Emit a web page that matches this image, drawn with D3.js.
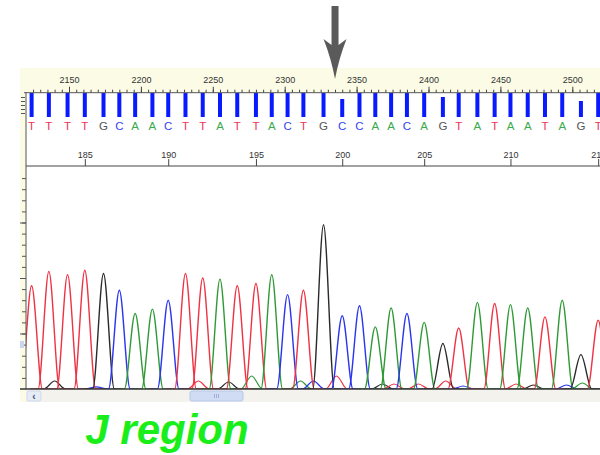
<!DOCTYPE html>
<html>
<head>
<meta charset="utf-8">
<script src="https://cdn.jsdelivr.net/npm/d3@7"></script>
<style>
  body { margin: 0; background: #fff; }
  svg { display: block; font-family: Arial, "Liberation Sans", sans-serif; }
</style>
</head>
<body>
<svg id="chart" width="600" height="455"></svg>
<script>
// called bases, first one shown is base 182
let bases = "TTTTGCAACTTATTACTGCCAACAGTATAATAGT".split(""),
    firstBase = 182;

// scan number of each called peak
let peakScans = [2124, 2136, 2149, 2161, 2174, 2185, 2196, 2208, 2219, 2231,
                 2243, 2255, 2267, 2280, 2291, 2302, 2313, 2327, 2340, 2352,
                 2363, 2374, 2385, 2397, 2410, 2421, 2434, 2446, 2457, 2469,
                 2481, 2493, 2506, 2518];

// signal of each called peak
let peakHeights = [930, 1060, 1030, 1070, 1040, 890, 680, 720, 800, 1040,
                   1000, 990, 930, 950, 1030, 850, 890, 1480, 660, 750,
                   560, 730, 680, 600, 410, 550, 780, 770, 760, 730,
                   650, 800, 310, 620];

// quality value per base (blue bars)
let quality = [60, 60, 60, 60, 60, 60, 60, 60, 60, 60,
               60, 60, 60, 60, 60, 60, 60, 60, 45, 60,
               60, 60, 60, 60, 50, 60, 60, 60, 60, 60,
               60, 60, 40, 60];

// small background bumps under the main peaks
let minorBases   = ["G", "C", "T", "G", "A", "A", "C", "T", "G", "T", "T", "T", "C", "T", "G", "C", "A"],
    minorScans   = [2140, 2169, 2240, 2261, 2277, 2311, 2320, 2336, 2368, 2376, 2393, 2412, 2424, 2461, 2473, 2496, 2507],
    minorHeights = [72, 20, 72, 63, 117, 72, 72, 117, 45, 45, 45, 72, 27, 45, 36, 36, 54];

let scanLabels = [2150, 2200, 2250, 2300, 2350, 2400, 2450, 2500];

let letterColor = {T: "#ee3355", G: "#555555", C: "#3344ee", A: "#3aaa4a"},
    traceColor  = {T: "#ee3344", G: "#2a2a2a", C: "#2a35ee", A: "#2f9a35"};

let svg = d3.select("#chart");

// scales
let x = d3.scaleLinear().domain([2150, 2500]).range([69, 572.3]);
let yq = d3.scaleLinear().domain([0, 60]).range([117, 93]);
let yt = d3.scaleLinear().domain([0, 2000]).range([389, 167]);

// window backgrounds
svg.append("rect").attr("x", 20).attr("y", 68).attr("width", 580).attr("height", 25).attr("fill", "#fcfce6");
svg.append("rect").attr("x", 20).attr("y", 68).attr("width", 6).attr("height", 334).attr("fill", "#fcfce6");

svg.append("defs").append("clipPath").attr("id", "plot")
  .append("rect").attr("x", 26).attr("y", 60).attr("width", 574).attr("height", 329);

// scan number axis along the top
let minorScanTicks = d3.range(2105, 2535, 5).filter(d => x(d) > 26 && x(d) < 600);
svg.append("g")
    .attr("transform", "translate(0,92.7)")
    .call(d3.axisTop(x).tickValues(minorScanTicks).tickSize(3).tickFormat(""))
    .call(g => g.select(".domain").remove());
svg.append("g")
    .attr("class", "scanAxis")
    .attr("transform", "translate(0,92.7)")
    .call(d3.axisTop(x).tickValues(scanLabels).tickSize(6).tickPadding(4).tickFormat(d3.format("d")))
    .call(g => g.select(".domain").remove());
svg.selectAll(".scanAxis text").attr("font-size", 9).attr("fill", "#333");
svg.selectAll("line").attr("stroke", "#444");

let plot = svg.append("g").attr("clip-path", "url(#plot)");

// quality bars
plot.selectAll(".qbar")
  .data(quality)
  .join("rect")
    .attr("class", "qbar")
    .attr("x", (d, i) => x(peakScans[i]) - 2)
    .attr("width", 4)
    .attr("y", d => yq(d))
    .attr("height", d => yq(0) - yq(d))
    .attr("fill", "#0a1aff");

// base letters
plot.selectAll(".base")
  .data(bases)
  .join("text")
    .attr("class", "base")
    .attr("x", (d, i) => x(peakScans[i]))
    .attr("y", 130)
    .attr("text-anchor", "middle")
    .attr("font-size", 11.5)
    .attr("fill", d => letterColor[d])
    .text(d => d);

// base number axis
let numberedScans = peakScans.filter((s, i) => (firstBase + i) % 5 === 0);
svg.append("g")
    .attr("class", "baseAxis")
    .attr("transform", "translate(0,166)")
    .call(d3.axisTop(x).tickValues(numberedScans).tickSize(7).tickPadding(1)
            .tickFormat(s => firstBase + peakScans.indexOf(s)))
    .call(g => g.select(".domain").remove());
svg.selectAll(".baseAxis text").attr("font-size", 9).attr("fill", "#333");
svg.selectAll(".baseAxis line").attr("stroke", "#444");

// frame lines
svg.append("line").attr("x1", 24).attr("x2", 600).attr("y1", 92.7).attr("y2", 92.7).attr("stroke", "#555");
svg.append("line").attr("x1", 26).attr("x2", 600).attr("y1", 166).attr("y2", 166).attr("stroke", "#444");
svg.append("line").attr("x1", 26).attr("x2", 26).attr("y1", 92.7).attr("y2", 389).attr("stroke", "#555");

// small quality scale on the left
svg.append("g")
    .attr("transform", "translate(25,0)")
    .call(d3.axisLeft(yq).tickValues([10, 20, 30, 40, 50]).tickSize(4).tickFormat(""))
    .call(g => g.select(".domain").remove())
    .selectAll("line").attr("stroke", "#555");

// signal axis on the left
svg.append("g")
    .attr("transform", "translate(26,0)")
    .call(d3.axisLeft(yt).tickValues(d3.range(100, 2000, 100)).tickSize(4).tickFormat(""))
    .call(g => g.select(".domain").remove())
    .selectAll("line").attr("stroke", "#555");
svg.append("g")
    .attr("transform", "translate(26,0)")
    .call(d3.axisLeft(yt).tickValues([500, 1000, 1500]).tickSize(6).tickFormat(""))
    .call(g => g.select(".domain").remove())
    .selectAll("line").attr("stroke", "#555");
svg.append("rect").attr("x", 20).attr("y", 341).attr("width", 4).attr("height", 7).attr("fill", "#c9d6ef");

// traces: each peak drawn as a smooth hump from the baseline
let halfWidth = 7.5, foot = 13;
let peakLine = d3.line()
    .x(d => x(d[0]))
    .y(d => yt(d[1]))
    .curve(d3.curveMonotoneX);
function peakPoints(s, h) {
  return [[s - foot, 0], [s - halfWidth, 0], [s, h], [s + halfWidth, 0], [s + foot, 0]];
}

plot.selectAll(".minor")
  .data(minorScans)
  .join("path")
    .attr("class", "minor")
    .attr("d", (s, i) => peakLine(peakPoints(s, minorHeights[i])))
    .attr("fill", "none")
    .attr("stroke", (s, i) => traceColor[minorBases[i]])
    .attr("stroke-width", 1.2);

plot.selectAll(".peak")
  .data(peakScans)
  .join("path")
    .attr("class", "peak")
    .attr("d", (s, i) => peakLine(peakPoints(s, peakHeights[i])))
    .attr("fill", "none")
    .attr("stroke", (s, i) => traceColor[bases[i]])
    .attr("stroke-width", 1.4);

// baseline
svg.append("line").attr("x1", 20).attr("x2", 600).attr("y1", 389).attr("y2", 389)
    .attr("stroke", "#333").attr("stroke-width", 1.5);

// scrollbar
svg.append("rect").attr("x", 26).attr("y", 390).attr("width", 574).attr("height", 12).attr("fill", "#f3f2ec");
svg.append("rect").attr("x", 27).attr("y", 391).attr("width", 14).attr("height", 10).attr("rx", 2)
    .attr("fill", "#e6ecf6").attr("stroke", "#d0d9ea");
svg.append("text").attr("x", 34).attr("y", 400).attr("text-anchor", "middle")
    .attr("font-size", 10).attr("font-weight", "bold").attr("fill", "#3a4a7a").text("‹");
svg.append("rect").attr("x", 190).attr("y", 391).attr("width", 53).attr("height", 10).attr("rx", 2)
    .attr("fill", "#cfdcf3").attr("stroke", "#b7c8e8");
svg.append("g").selectAll("line")
  .data([-2, 0, 2])
  .join("line")
    .attr("x1", d => 216.5 + d).attr("x2", d => 216.5 + d)
    .attr("y1", 394).attr("y2", 398)
    .attr("stroke", "#9fb1d6");

// arrow pointing at the position of interest
let arrowScan = 2335, cx = x(arrowScan);
svg.append("path")
    .attr("d", `M${cx - 3.5},6 L${cx + 3.5},6 L${cx + 3.5},45 L${cx + 11.5},39 `
             + `Q${cx + 4},58 ${cx},79 Q${cx - 4},58 ${cx - 11.5},39 L${cx - 3.5},45 Z`)
    .attr("fill", "#5a5a5a");

// caption
svg.append("text")
    .attr("x", 167).attr("y", 444)
    .attr("text-anchor", "middle")
    .attr("font-size", 42)
    .attr("font-weight", "bold")
    .attr("font-style", "italic")
    .attr("fill", "#1aee1a")
    .text("J region");
</script>
</body>
</html>
